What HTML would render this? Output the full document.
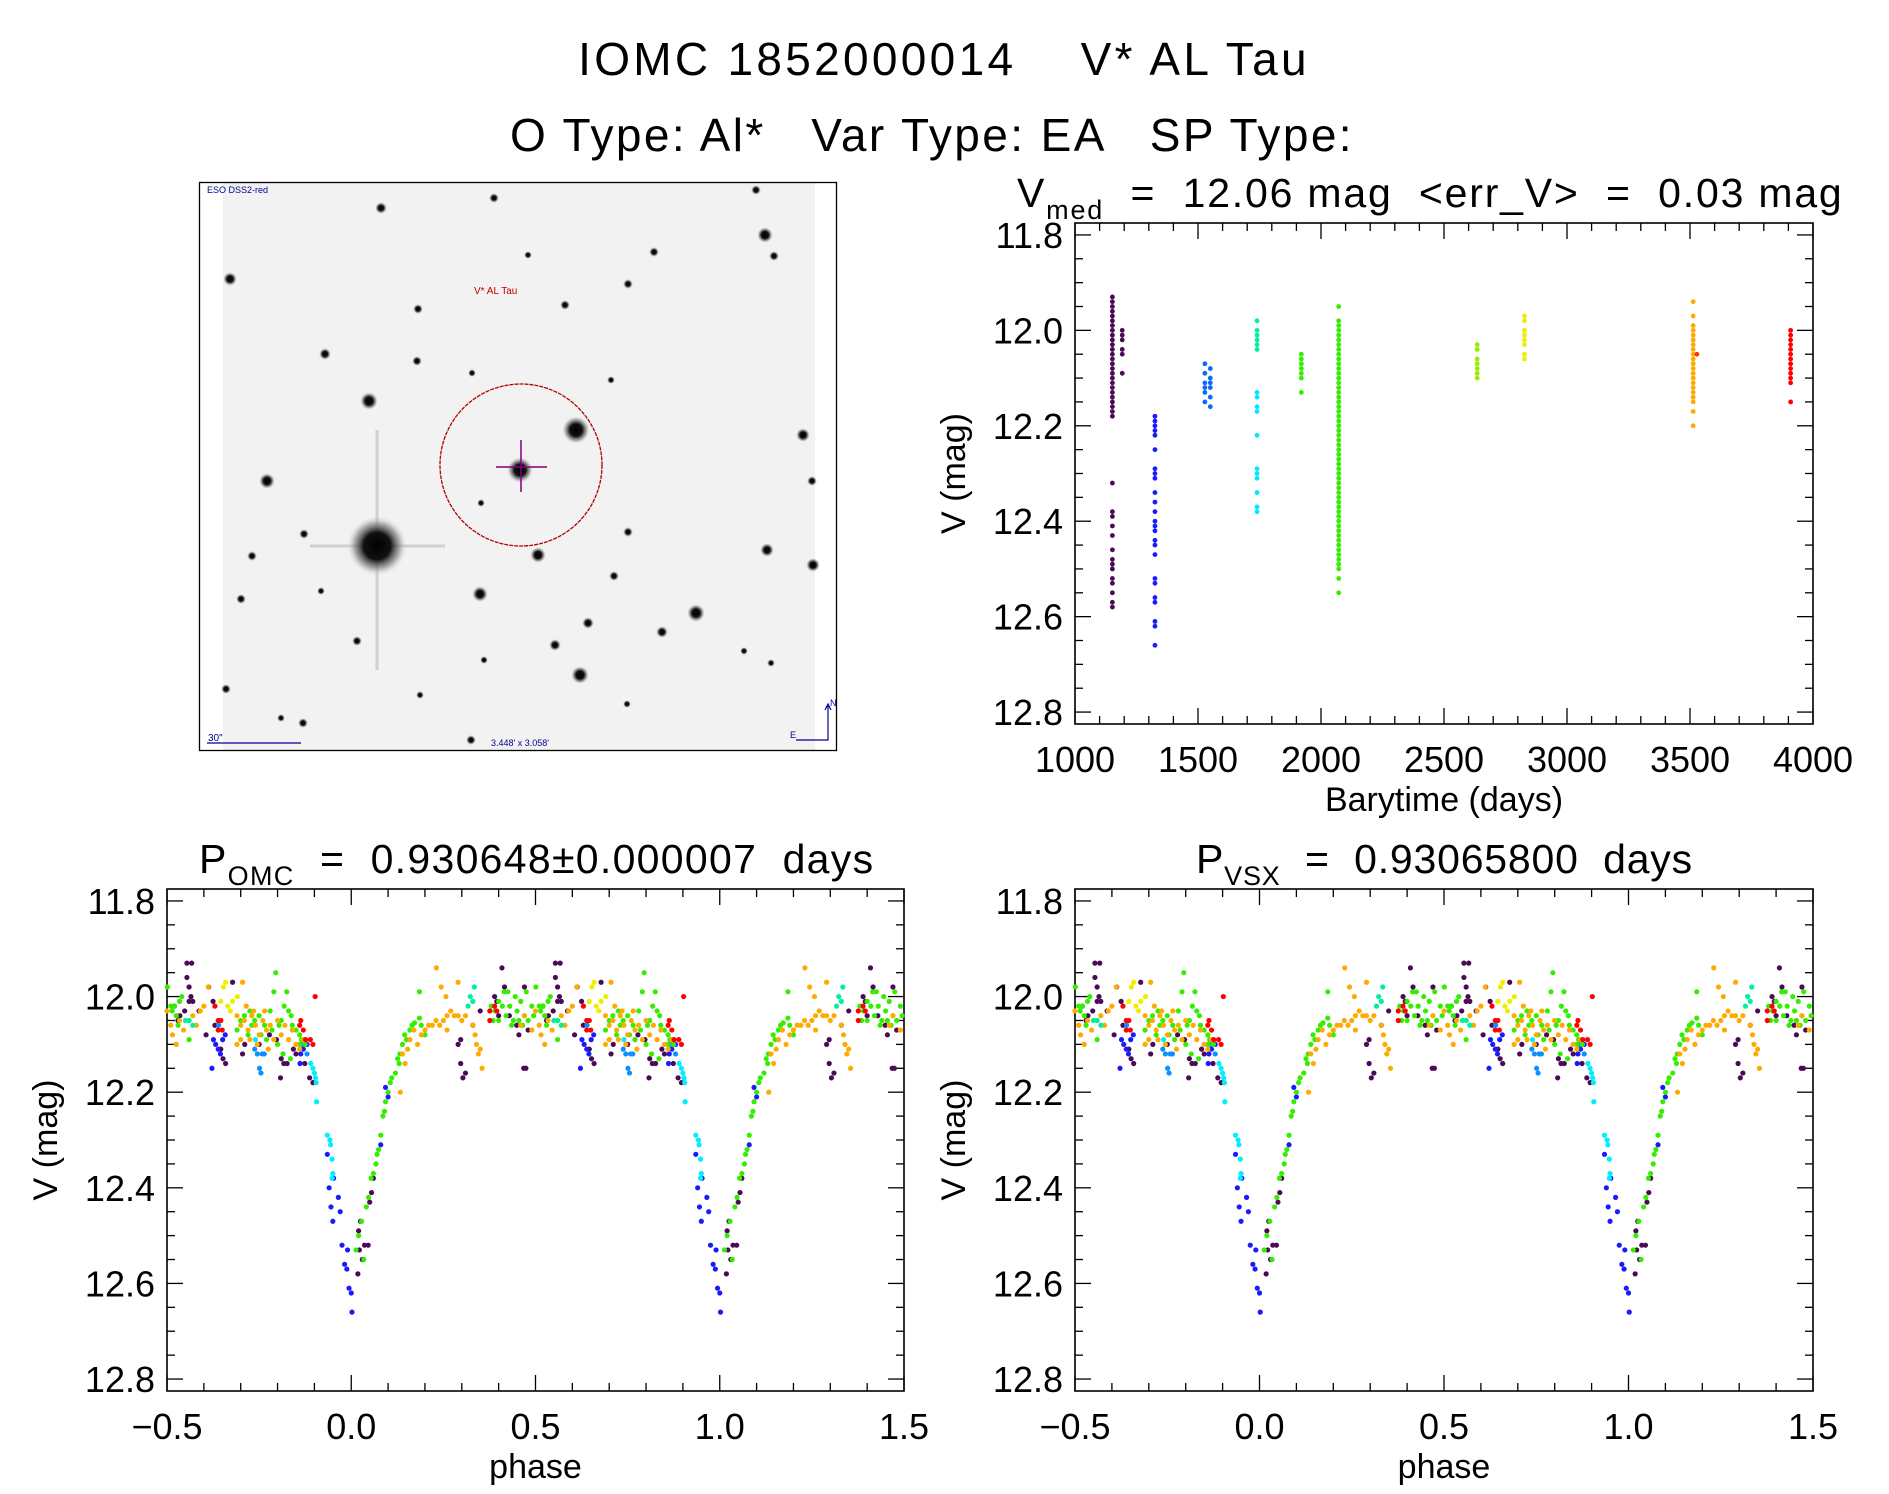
<!DOCTYPE html>
<html><head><meta charset="utf-8"><title>IOMC 1852000014 V* AL Tau</title>
<style>
html,body{margin:0;padding:0;background:#fff;}
svg{display:block;font-family:"Liberation Sans",sans-serif;}
text{white-space:pre;}
</style></head>
<body>
<svg id="fig" width="1889" height="1494" viewBox="0 0 1889 1494" xmlns="http://www.w3.org/2000/svg">
<rect x="0" y="0" width="1889" height="1494" fill="#fff"/>
<text x="944" y="75" font-size="46" letter-spacing="3.3" text-anchor="middle">IOMC 1852000014    V* AL Tau</text>
<text x="932" y="151" font-size="46" letter-spacing="2.4" text-anchor="middle">O Type: Al*   Var Type: EA   SP Type:</text>

<g id="sky">
  <defs>
    <radialGradient id="sg"><stop offset="0" stop-color="#000"/><stop offset="0.45" stop-color="#111"/><stop offset="0.75" stop-color="#777" stop-opacity="0.6"/><stop offset="1" stop-color="#ddd" stop-opacity="0"/></radialGradient>
  </defs>
  <rect x="223" y="182" width="592" height="569" fill="#f2f2f2"/>
  <line x1="377" y1="430" x2="377" y2="670" stroke="#d0d0d0" stroke-width="3"/>
  <line x1="310" y1="546" x2="445" y2="546" stroke="#d0d0d0" stroke-width="3"/>
  <g id="stars"></g>
  <rect x="199.5" y="182.5" width="637" height="568" fill="none" stroke="#000" stroke-width="1.3"/>
  <circle cx="521" cy="465" r="81" fill="none" stroke="#b00000" stroke-width="1.3" stroke-dasharray="4 1"/>
  <line x1="496" y1="467" x2="547" y2="467" stroke="#800080" stroke-width="1.5"/>
  <line x1="521" y1="440" x2="521" y2="492" stroke="#800080" stroke-width="1.5"/>
  <text x="474" y="294" font-size="10" fill="#c00000">V* AL Tau</text>
  <text x="207" y="193" font-size="9" fill="#000090">ESO DSS2-red</text>
  <text x="208" y="741" font-size="10" fill="#000090">30"</text>
  <line x1="207" y1="743" x2="301" y2="743" stroke="#000090" stroke-width="1.2"/>
  <text x="520" y="746" font-size="9" fill="#000090" text-anchor="middle">3.448' x 3.058'</text>
  <path d="M796 740 H828 V706 M825 710 L828 704 L831 710" fill="none" stroke="#000090" stroke-width="1.2"/>
  <text x="830" y="706" font-size="9" fill="#000090">N</text>
  <text x="790" y="738" font-size="9" fill="#000090">E</text>
</g>

<g id="p-time"></g>
<g id="p-omc"></g>
<g id="p-vsx"></g>
</svg>
<script>
// ---------- star field (image) ----------
const starX=[377,576,520,369,267,538,480,696,580,765,767,803,813,662,588,555,381,230,325,417,418,565,628,654,774,756,494,241,304,252,321,357,471,303,226,614,628,481,472,528,812,744,771,484,627,611,281,420];
const starY=[546,430,470,401,481,555,594,613,675,235,550,435,565,632,623,645,208,279,354,361,309,305,284,252,256,190,198,599,534,556,591,641,740,723,689,576,532,503,373,255,481,651,663,660,704,380,718,695];
const starR=[30,14,13,9,8,8,8,9,9,8,7,7,7,6,6,6,6,7,6,5,5,5,5,5,5,5,5,5,5,5,4,5,5,5,5,5,5,4,4,4,5,4,4,4,4,4,4,4];

// ---------- time series ----------
const seasonTimes=[1152,1192,1325,1528,1550,1740,1740,1920,2072,2635,2827,3513,3528,3909];
const seasonColors=["#4b0a55","#4b0a55","#1a1aff","#0a6aff","#0a6aff","#00f0a0","#00e8ff","#33ee00","#33ee00","#99ee00","#eeee00","#ffaa00","#ff3300","#ff0000"];
const seasonMags=[
 [11.93,11.94,11.95,11.96,11.97,11.98,11.99,12.00,12.01,12.02,12.03,12.04,12.05,12.06,12.07,12.08,12.09,12.10,12.11,12.12,12.13,12.14,12.15,12.16,12.17,12.18,12.32,12.38,12.39,12.41,12.43,12.46,12.48,12.49,12.50,12.52,12.53,12.55,12.57,12.58],
 [12.00,12.01,12.02,12.04,12.05,12.09],
 [12.18,12.19,12.20,12.21,12.22,12.25,12.29,12.30,12.31,12.34,12.36,12.38,12.40,12.41,12.42,12.44,12.45,12.47,12.52,12.53,12.56,12.57,12.61,12.62,12.66],
 [12.07,12.09,12.11,12.12,12.13,12.15],
 [12.08,12.10,12.11,12.12,12.14,12.16],
 [11.98,12.00,12.01,12.02,12.03,12.04],
 [12.13,12.14,12.16,12.17,12.22,12.29,12.30,12.31,12.34,12.37,12.38],
 [12.05,12.06,12.07,12.08,12.09,12.10,12.13],
 [11.95,11.98,11.99,12.00,12.01,12.02,12.03,12.04,12.05,12.06,12.07,12.08,12.09,12.10,12.11,12.12,12.13,12.14,12.15,12.16,12.17,12.18,12.19,12.20,12.21,12.22,12.23,12.24,12.25,12.26,12.27,12.28,12.29,12.30,12.31,12.32,12.33,12.34,12.35,12.36,12.37,12.38,12.39,12.40,12.41,12.42,12.43,12.44,12.45,12.46,12.47,12.48,12.49,12.50,12.52,12.55],
 [12.03,12.04,12.06,12.07,12.08,12.09,12.10],
 [11.97,11.98,12.00,12.01,12.02,12.03,12.05,12.06],
 [11.94,11.97,11.99,12.00,12.01,12.02,12.03,12.04,12.05,12.06,12.07,12.08,12.09,12.10,12.11,12.12,12.13,12.14,12.15,12.17,12.20],
 [12.05],
 [12.00,12.01,12.02,12.03,12.04,12.05,12.06,12.07,12.08,12.09,12.10,12.11,12.15]
];
const timeTicks=[1000,1500,2000,2500,3000,3500,4000];
const magTicks=[11.8,12.0,12.2,12.4,12.6,12.8];
const phaseTicks=[-0.5,0.0,0.5,1.0,1.5];

// ---------- folded light curve (phase in [-0.5,0.5), plotted at p and p+1) ----------
const groupColors=["#4b0a55","#1a1aff","#0a90ff","#00eeff","#00f0a0","#33ee00","#ffaa00","#eeee00","#ff0000"];
const purplePhase=[-0.446,-0.433,-0.446,-0.44,-0.435,-0.44,-0.43,-0.452,-0.413,-0.465,-0.387,-0.322,-0.375,-0.394,-0.348,-0.341,-0.354,-0.295,-0.289,-0.19,-0.183,-0.174,-0.192,-0.157,-0.126,-0.113,-0.104,-0.222,-0.203,0.297,0.303,0.31,0.29,0.297,0.389,0.395,0.409,0.416,0.429,0.449,0.455,0.468,0.474,0.48,0.47,0.40,0.018,0.022,0.02,0.03,0.036,0.046,0.05,0.055,0.06,0.025,-0.47,-0.48,-0.37,-0.25,-0.15,0.35,0.33];
const purpleMag=[11.93,11.93,11.96,11.98,12.00,12.01,12.01,12.03,12.03,12.04,11.98,11.97,12.01,12.08,12.13,12.14,12.11,12.12,12.10,12.13,12.14,12.14,12.17,12.11,12.14,12.17,12.18,12.08,12.09,12.14,12.17,12.16,12.10,12.09,12.00,12.01,11.94,11.98,12.04,12.06,12.08,12.15,12.15,12.07,11.98,12.04,12.58,12.53,12.49,12.55,12.52,12.52,12.43,12.41,12.38,12.47,12.05,12.02,12.06,12.10,12.12,12.03,12.06];
const bluePhase=[-0.065,-0.06,-0.055,-0.05,-0.048,-0.035,-0.03,-0.025,-0.018,-0.012,-0.006,0.0,0.002,-0.01,0.093,0.10,0.08,-0.378,-0.374,-0.368,-0.361,-0.355,-0.349,-0.342,-0.137,-0.13,-0.139,-0.12];
const blueMag=[12.33,12.40,12.44,12.47,12.38,12.42,12.45,12.52,12.56,12.57,12.61,12.62,12.66,12.53,12.19,12.21,12.31,12.15,12.09,12.10,12.11,12.12,12.09,12.08,12.12,12.11,12.14,12.10];
const azurePhase=[-0.255,-0.242,-0.236,-0.249,-0.245,-0.262,-0.12,-0.135,-0.36];
const azureMag=[12.12,12.12,12.12,12.15,12.16,12.11,12.12,12.10,12.06];
const cyanPhase=[-0.11,-0.104,-0.1,-0.097,-0.095,-0.094,-0.065,-0.058,-0.056,-0.052,-0.05,-0.052,-0.26];
const cyanMag=[12.14,12.15,12.16,12.17,12.18,12.22,12.29,12.30,12.31,12.34,12.37,12.38,12.09];
const tealPhase=[0.323,0.33,0.334,0.317,-0.44,-0.45,-0.43];
const tealMag=[12.00,12.01,11.98,12.02,12.05,12.05,12.06];
const greenPhase=[-0.499,-0.486,-0.48,-0.466,-0.44,-0.275,-0.262,-0.25,-0.235,-0.22,-0.205,-0.21,-0.175,-0.182,-0.17,-0.163,-0.19,-0.196,-0.14,-0.135,-0.14,-0.3,-0.31,-0.28,-0.23,-0.2,-0.16,-0.15,-0.125,-0.27,-0.245,-0.29,-0.215,-0.185,-0.165,
 0.013,0.02,0.034,0.028,0.041,0.047,0.054,0.06,0.067,0.074,0.08,0.086,0.093,0.1,0.106,0.12,0.126,0.132,0.139,0.145,0.159,0.172,0.185,0.07,0.09,0.11,0.13,0.15,0.165,0.19,0.185,0.2,
 0.38,0.39,0.40,0.41,0.42,0.43,0.44,0.45,0.46,0.47,0.48,0.49,0.415,0.435,0.455,0.40,0.425,0.445,0.465,0.475,0.495,0.385,-0.49,-0.475,-0.46,-0.47];
const greenMag=[11.98,12.03,12.02,12.01,12.09,12.03,12.05,12.04,12.06,12.03,11.95,11.99,11.99,12.02,12.03,12.04,12.05,12.06,12.08,12.09,12.10,12.05,12.07,12.08,12.09,12.10,12.06,12.07,12.10,12.06,12.08,12.04,12.07,12.12,12.13,
 12.53,12.50,12.55,12.47,12.44,12.42,12.38,12.37,12.35,12.32,12.29,12.25,12.22,12.20,12.18,12.16,12.13,12.12,12.10,12.08,12.07,12.055,12.045,12.33,12.24,12.17,12.14,12.09,12.06,12.06,11.99,12.08,
 12.02,12.03,12.01,12.02,12.04,12.02,12.05,12.03,12.01,12.04,12.05,12.02,11.99,12.06,12.05,12.05,11.99,12.00,12.06,11.99,12.04,12.05,12.02,12.04,12.00,12.06];
const orangePhase=[-0.5,-0.49,-0.485,-0.475,-0.466,-0.455,-0.44,-0.43,-0.42,-0.41,-0.4,-0.388,-0.295,-0.31,-0.3,-0.29,-0.28,-0.27,-0.26,-0.25,-0.24,-0.23,-0.22,-0.21,-0.2,-0.19,-0.18,-0.265,-0.275,-0.285,-0.255,-0.235,-0.225,-0.3,-0.31,-0.15,-0.14,-0.16,-0.17,-0.13,
 0.133,0.139,0.146,0.153,0.159,0.17,0.2,0.21,0.22,0.23,0.24,0.25,0.26,0.27,0.28,0.29,0.231,0.244,0.257,0.29,0.336,0.34,0.345,0.35,0.355,0.33,0.19,0.18,0.49,0.47,0.46,0.26,0.3,0.31];
const orangeMag=[12.03,12.06,12.08,12.10,12.05,12.07,12.05,12.04,12.06,12.03,12.02,11.98,11.97,12.04,12.06,12.05,12.07,12.04,12.06,12.08,12.05,12.07,12.06,12.09,12.05,12.08,12.06,12.03,12.09,12.02,12.10,12.03,12.11,12.09,12.10,12.10,12.11,12.07,12.09,12.09,
 12.20,12.12,12.14,12.11,12.09,12.07,12.07,12.06,12.06,12.05,12.06,12.05,12.04,12.03,12.04,12.04,11.94,11.98,12.00,11.97,12.08,12.10,12.12,12.11,12.15,12.06,12.08,12.10,12.07,12.04,12.06,12.07,12.05,12.04];
const yellowPhase=[-0.347,-0.341,-0.354,-0.328,-0.322,-0.309,-0.335];
const yellowMag=[11.98,11.97,12.01,12.03,12.01,12.00,12.02];
const redPhase=[-0.37,-0.361,-0.354,-0.35,-0.361,-0.137,-0.13,-0.124,-0.111,-0.104,-0.098,0.376,0.389,0.376,0.395,-0.14];
const redMag=[12.02,12.05,12.05,12.07,12.07,12.05,12.07,12.09,12.09,12.10,12.00,12.03,12.02,12.05,12.03,12.06];

const NS="http://www.w3.org/2000/svg";
function mk(tag,attrs,parent){const e=document.createElementNS(NS,tag);for(const k in attrs)e.setAttribute(k,attrs[k]);parent.appendChild(e);return e;}

const starG=document.getElementById('stars');
for(let i=0;i<starX.length;i++){
  const c=mk('circle',{cx:starX[i],cy:starY[i],r:starR[i],fill:'url(#sg)'},starG);
  
  
}

function makeAxes(g,box,xmin,xmax,xMajor,xMinorStep,xTicks,xFmt,xTitle,title,titleSub,titleRest,titleX,titleLS){
  const X=v=>box.x0+(v-xmin)/(xmax-xmin)*(box.x1-box.x0);
  const ymin=11.775,ymax=12.825;
  const Y=v=>box.y0+(v-ymin)/(ymax-ymin)*(box.y1-box.y0);
  const ax=mk('g',{},g);
  
  
  mk('rect',{x:box.x0,y:box.y0,width:box.x1-box.x0,height:box.y1-box.y0,fill:'none',stroke:'#000','stroke-width':1.6},ax);
  for(let k=0;k<=20;k++){
    const v=11.8+k*0.05; const yy=Y(v); const maj=(k%4===0); const L=maj?16:8;
    mk('line',{x1:box.x0,y1:yy,x2:box.x0+L,y2:yy,stroke:'#000','stroke-width':1.3},ax);
    mk('line',{x1:box.x1,y1:yy,x2:box.x1-L,y2:yy,stroke:'#000','stroke-width':1.3},ax);
  }
  magTicks.forEach(v=>{
    const t=mk('text',{x:box.x0-12,y:Y(v)+13,'font-size':36,'text-anchor':'end'},ax);
    t.textContent=v.toFixed(1);
    
    
  });
  const nMinor=Math.round((xmax-xmin)/xMinorStep);
  for(let k=0;k<=nMinor;k++){
    const v=xmin+k*xMinorStep; const xx=X(v); const maj=(k%xMajor===0); const L=maj?16:8;
    mk('line',{x1:xx,y1:box.y1,x2:xx,y2:box.y1-L,stroke:'#000','stroke-width':1.3},ax);
    mk('line',{x1:xx,y1:box.y0,x2:xx,y2:box.y0+L,stroke:'#000','stroke-width':1.3},ax);
  }
  xTicks.forEach(v=>{
    const t=mk('text',{x:X(v),y:box.y1+48,'font-size':36,'text-anchor':'middle'},ax);
    t.textContent=xFmt(v);
    
    
  });
  const xt=mk('text',{x:(box.x0+box.x1)/2,y:box.y1+87,'font-size':34,'text-anchor':'middle'},ax);
  xt.textContent=xTitle;
  
  
  const yc=(box.y0+box.y1)/2, yx=box.x0-110;
  const yt=mk('text',{x:yx,y:yc,'font-size':34,'text-anchor':'middle',transform:`rotate(-90 ${yx} ${yc})`},ax);
  yt.textContent='V (mag)';
  
  
  const tt=mk('text',{x:titleX,y:box.y0-16,'font-size':41,'letter-spacing':titleLS},ax);
  
  
  const s1=mk('tspan',{},tt); s1.textContent=title;
  const s2=mk('tspan',{dy:12,'font-size':27},tt); s2.textContent=titleSub;
  const s3=mk('tspan',{dy:-12},tt); s3.textContent=titleRest;
  return {X,Y};
}

const gT=document.getElementById('p-time');
const bT={x0:1075,x1:1813,y0:223,y1:724};
const aT=makeAxes(gT,bT,1000,4000,5,100,timeTicks,v=>String(v),'Barytime (days)','V','med','  =  12.06 mag  <err_V>  =  0.03 mag',1017,1.8);
const dT=mk('g',{},gT);


seasonTimes.forEach((t,i)=>{
  seasonMags[i].forEach(m=>{
    const c=mk('circle',{cx:aT.X(t),cy:aT.Y(m),r:2.4,fill:seasonColors[i]},dT);
    
    
  });
});

const groups=[[purplePhase,purpleMag],[bluePhase,blueMag],[azurePhase,azureMag],[cyanPhase,cyanMag],[tealPhase,tealMag],[greenPhase,greenMag],[orangePhase,orangeMag],[yellowPhase,yellowMag],[redPhase,redMag]];
const drawOrder=[0,1,2,3,5,6,4,7,8];
function phasePlot(id,box,pre,sub,rest,tx,ls,shift){
  const g=document.getElementById(id);
  const a=makeAxes(g,box,-0.5,1.5,5,0.1,phaseTicks,v=>(v<0?'\u2212':'')+Math.abs(v).toFixed(1),'phase',pre,sub,rest,tx,ls);
  const d=mk('g',{},g);
  
  
  drawOrder.forEach(gi=>{
    const [ph,mg]=groups[gi];
    ph.forEach((p,j)=>{
      [p+shift,p+shift+1].forEach(pp=>{
        if(pp<-0.5||pp>1.5) return;
        const c=mk('circle',{cx:a.X(pp),cy:a.Y(mg[j]),r:2.6,fill:groupColors[gi]},d);
        
        
      });
    });
  });
}
phasePlot('p-omc',{x0:167,x1:904,y0:889,y1:1391},'P','OMC','  =  0.930648\u00b10.000007  days',199,1.3,0);
phasePlot('p-vsx',{x0:1075,x1:1813,y0:889,y1:1391},'P','VSX','  =  0.93065800  days',1196,0.8,0);
</script>
</body></html>
